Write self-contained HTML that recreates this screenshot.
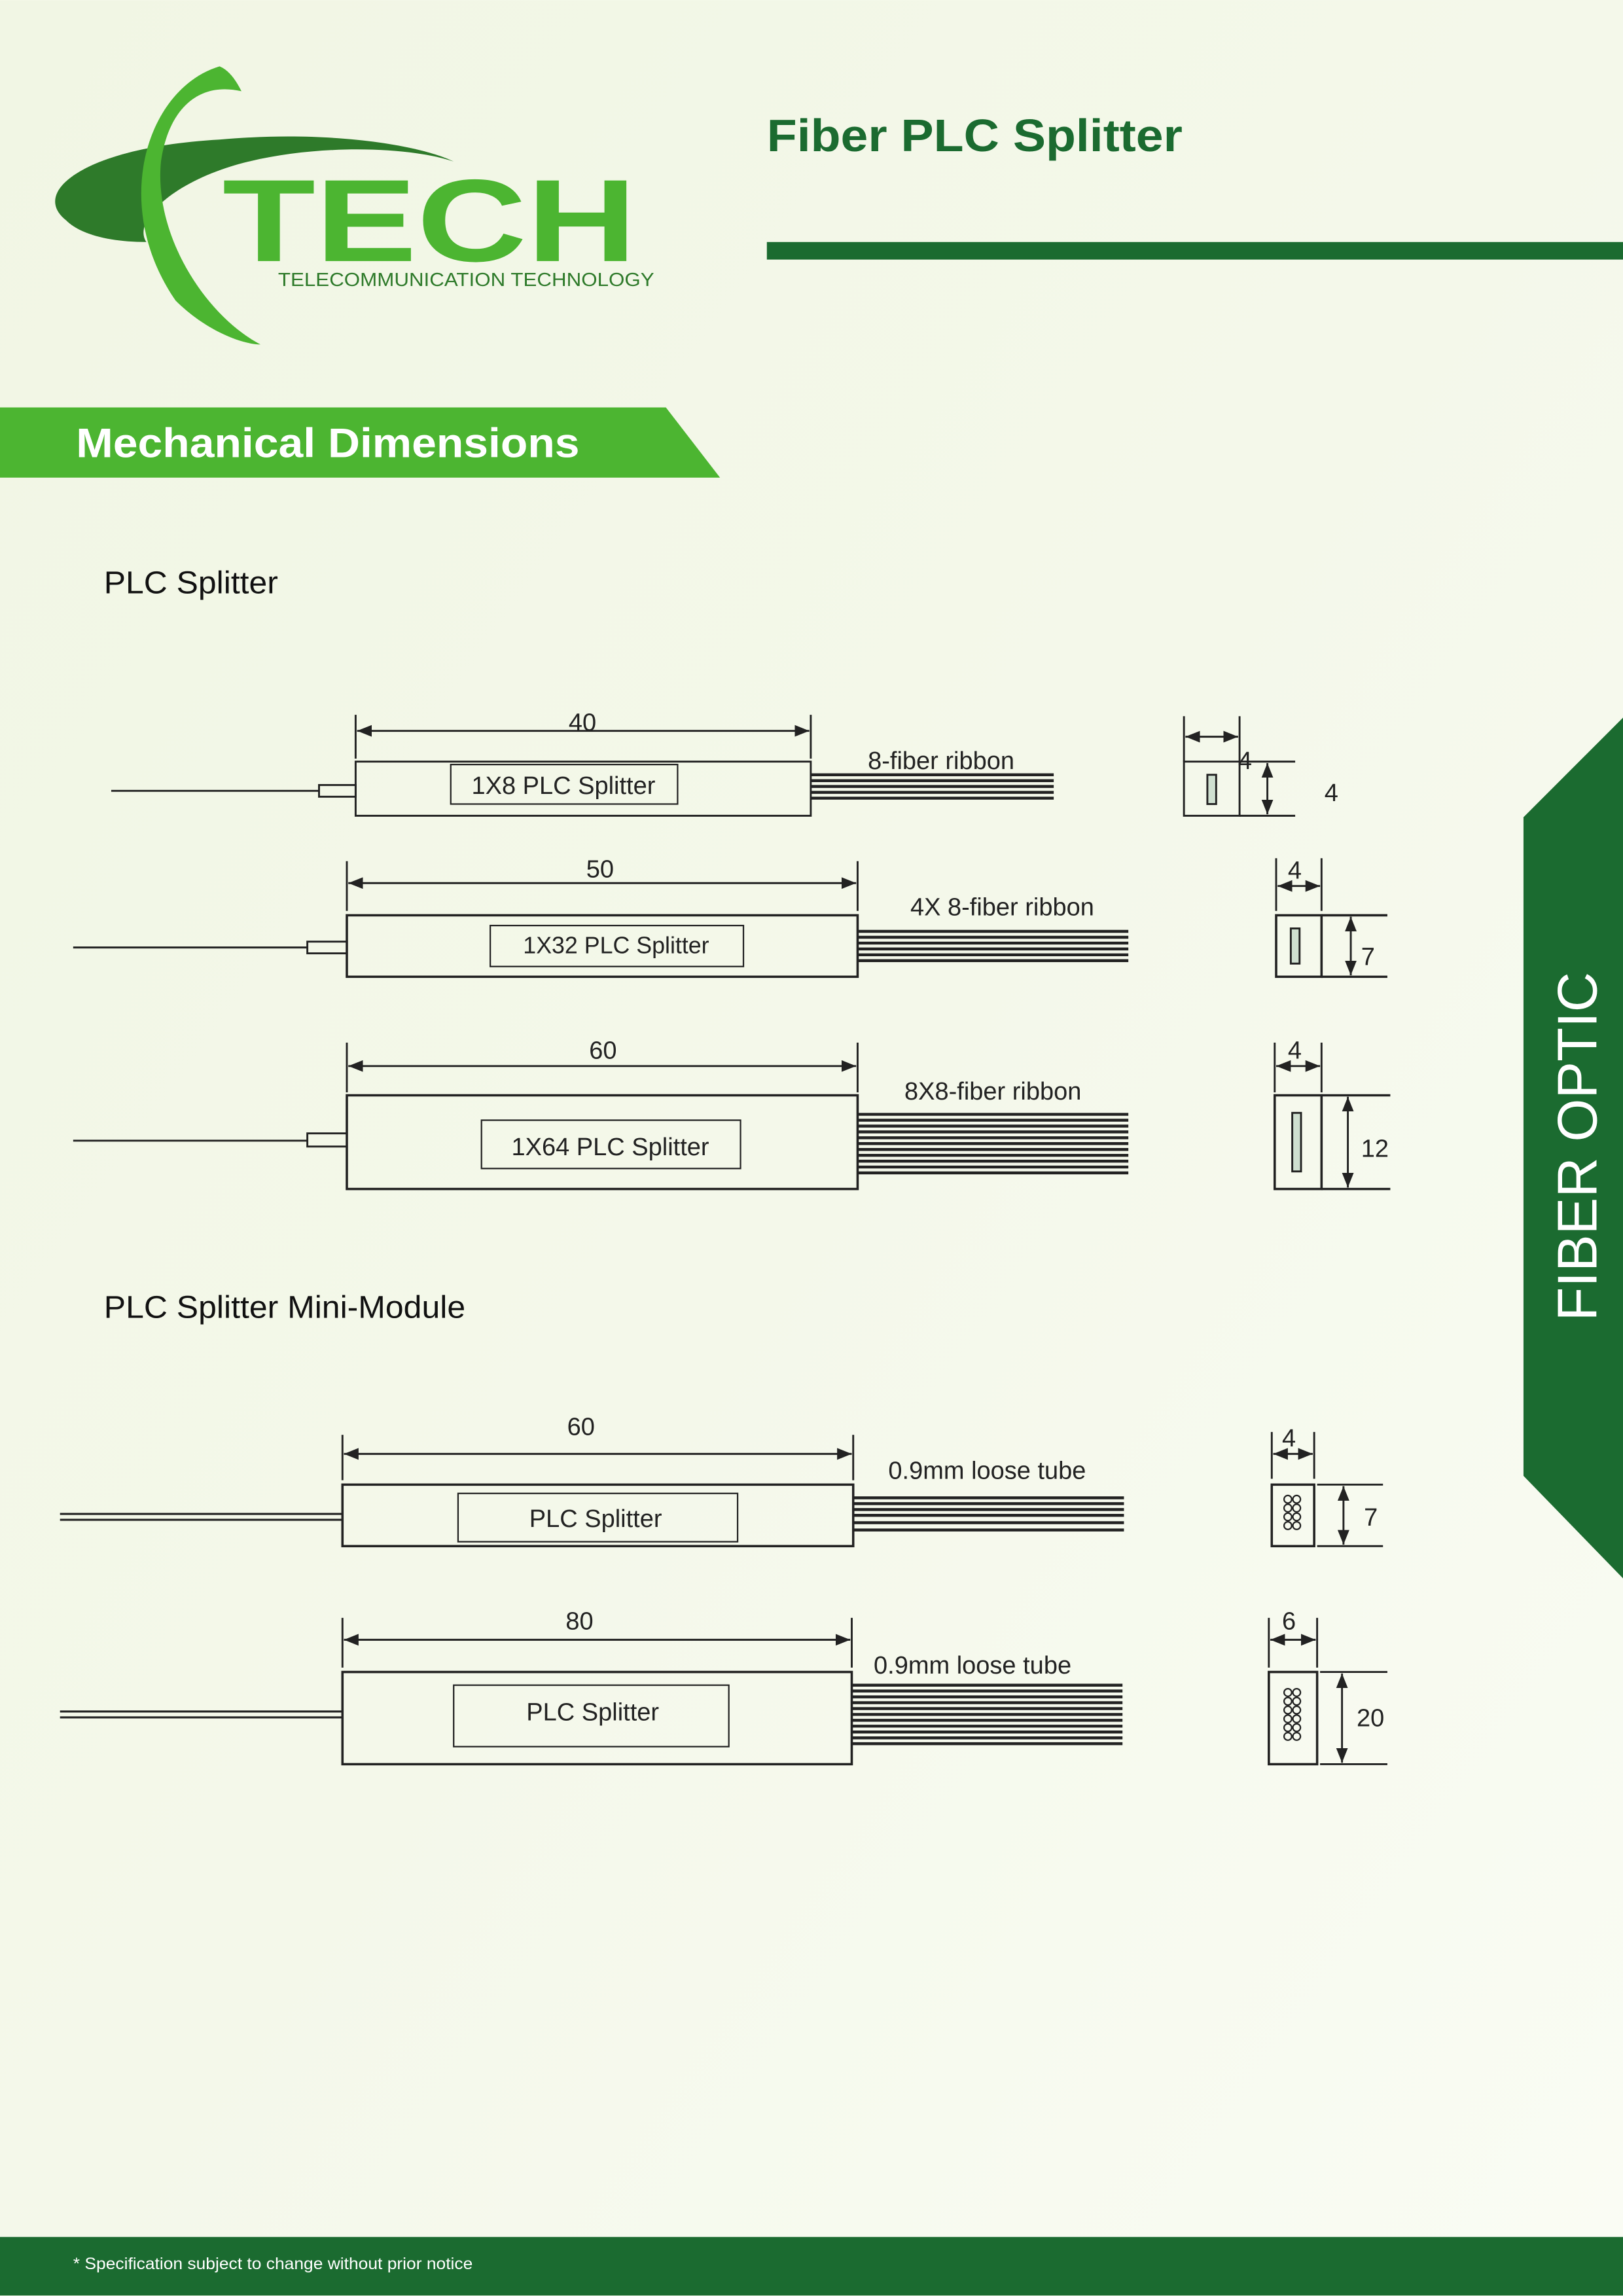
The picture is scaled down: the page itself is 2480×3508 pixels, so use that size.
<!DOCTYPE html>
<html><head><meta charset="utf-8"><style>
html,body{margin:0;padding:0;background:#f4f8ea;}
svg{display:block;}
text{font-family:"Liberation Sans",sans-serif;}
</style></head><body>
<svg width="2480" height="3508" viewBox="0 0 1109 1568" xmlns="http://www.w3.org/2000/svg">
<defs>
<linearGradient id="bg" x1="0" y1="0" x2="1" y2="1">
<stop offset="0" stop-color="#f1f6e4"/><stop offset="0.5" stop-color="#f4f8ea"/><stop offset="1" stop-color="#fafcf4"/></linearGradient>
<marker id="a" viewBox="0 0 10 10" refX="10" refY="5" markerWidth="10" markerHeight="10" orient="auto-start-reverse" markerUnits="userSpaceOnUse"><path d="M0,1 L10,5 L0,9z" fill="#222"/></marker>
</defs>
<rect width="1109" height="1568" fill="url(#bg)"/>

<!-- logo -->
<path d="M45,150 C20,130 60,100 150,95 C230,88 290,100 310,110 C280,100 220,98 170,110 C120,122 90,150 100,165 C75,165 55,160 45,150z" fill="#2e7a2a"/>
<path d="M150,45 C100,60 75,140 120,205 C140,225 165,235 178,235 C140,215 105,160 110,110 C115,75 135,55 165,62 C160,52 155,47 150,45z" fill="#4cb531"/>
<text x="152" y="178" font-size="80" font-weight="bold" fill="#4cb531" textLength="283" lengthAdjust="spacingAndGlyphs">TECH</text>
<text x="190" y="195" font-size="13" fill="#2e7a2a" textLength="257" lengthAdjust="spacingAndGlyphs">TELECOMMUNICATION TECHNOLOGY</text>

<text x="524" y="103" font-size="31" font-weight="bold" fill="#1b6b30" textLength="284" lengthAdjust="spacingAndGlyphs">Fiber PLC Splitter</text>
<rect x="524" y="165" width="585" height="12" fill="#1b6b30"/>

<path d="M0,278 L455,278 L492,326 L0,326z" fill="#4cb531"/>
<text x="52" y="312" font-size="28" font-weight="bold" fill="#fff" textLength="344" lengthAdjust="spacingAndGlyphs">Mechanical Dimensions</text>

<path d="M1041,558 L1109,490 L1109,1078 L1041,1008z" fill="#1b6b30"/>
<text transform="translate(1091,783) rotate(-90)" text-anchor="middle" font-size="38" fill="#fff">FIBER OPTIC</text>

<text x="71" y="405" font-size="21.5" fill="#111" textLength="119" lengthAdjust="spacingAndGlyphs">PLC Splitter</text>
<text x="71" y="900" font-size="21.5" fill="#111" textLength="247" lengthAdjust="spacingAndGlyphs">PLC Splitter Mini-Module</text>

<g stroke="#222" fill="none" stroke-width="1.3">
<!-- D1 -->
<line x1="243" y1="488" x2="243" y2="518"/><line x1="554" y1="488" x2="554" y2="518"/>
<line x1="244" y1="499" x2="553" y2="499" marker-start="url(#a)" marker-end="url(#a)"/>
<rect x="243" y="520" width="311" height="37"/><rect x="308" y="522" width="155" height="27" stroke-width="1"/>
<line x1="76" y1="540" x2="218" y2="540"/><rect x="218" y="536" width="25" height="8"/>
<g stroke-width="2"><line x1="554" y1="529" x2="720" y2="529"/><line x1="554" y1="533" x2="720" y2="533"/><line x1="554" y1="537" x2="720" y2="537"/><line x1="554" y1="541" x2="720" y2="541"/><line x1="554" y1="545" x2="720" y2="545"/></g>
<rect x="809" y="520" width="38" height="37"/><rect x="825" y="529" width="6" height="20" fill="#cfe0d0"/>
<line x1="809" y1="489" x2="809" y2="520"/><line x1="847" y1="489" x2="847" y2="520"/>
<line x1="810" y1="503" x2="846" y2="503" marker-start="url(#a)" marker-end="url(#a)"/>
<line x1="847" y1="520" x2="885" y2="520"/><line x1="847" y1="557" x2="885" y2="557"/>
<line x1="866" y1="521" x2="866" y2="556" marker-start="url(#a)" marker-end="url(#a)"/>
<!-- D2 -->
<line x1="237" y1="588" x2="237" y2="622"/><line x1="586" y1="588" x2="586" y2="622"/>
<line x1="238" y1="603" x2="585" y2="603" marker-start="url(#a)" marker-end="url(#a)"/>
<rect x="237" y="625" width="349" height="42" stroke-width="1.6"/><rect x="335" y="632" width="173" height="28" stroke-width="1"/>
<line x1="50" y1="647" x2="210" y2="647"/><rect x="210" y="643" width="27" height="8"/>
<g stroke-width="2"><line x1="586" y1="636" x2="771" y2="636"/><line x1="586" y1="640" x2="771" y2="640"/><line x1="586" y1="644" x2="771" y2="644"/><line x1="586" y1="648" x2="771" y2="648"/><line x1="586" y1="652" x2="771" y2="652"/><line x1="586" y1="656" x2="771" y2="656"/></g>
<rect x="872" y="625" width="31" height="42" stroke-width="1.6"/><rect x="882" y="634" width="6" height="24" fill="#cfe0d0"/>
<line x1="872" y1="586" x2="872" y2="622"/><line x1="903" y1="586" x2="903" y2="622"/>
<line x1="873" y1="605" x2="902" y2="605" marker-start="url(#a)" marker-end="url(#a)"/>
<line x1="903" y1="625" x2="948" y2="625" stroke-width="1.6"/><line x1="903" y1="667" x2="948" y2="667" stroke-width="1.6"/>
<line x1="923" y1="626" x2="923" y2="666" marker-start="url(#a)" marker-end="url(#a)"/>
<!-- D3 -->
<line x1="237" y1="712" x2="237" y2="746"/><line x1="586" y1="712" x2="586" y2="746"/>
<line x1="238" y1="728" x2="585" y2="728" marker-start="url(#a)" marker-end="url(#a)"/>
<rect x="237" y="748" width="349" height="64" stroke-width="1.6"/><rect x="329" y="765" width="177" height="33" stroke-width="1"/>
<line x1="50" y1="779" x2="210" y2="779"/><rect x="210" y="774" width="27" height="9"/>
<g stroke-width="2"><line x1="586" y1="761" x2="771" y2="761"/><line x1="586" y1="765" x2="771" y2="765"/><line x1="586" y1="769" x2="771" y2="769"/><line x1="586" y1="773" x2="771" y2="773"/><line x1="586" y1="777" x2="771" y2="777"/><line x1="586" y1="781" x2="771" y2="781"/><line x1="586" y1="785" x2="771" y2="785"/><line x1="586" y1="789" x2="771" y2="789"/><line x1="586" y1="793" x2="771" y2="793"/><line x1="586" y1="797" x2="771" y2="797"/><line x1="586" y1="801" x2="771" y2="801"/></g>
<rect x="871" y="748" width="32" height="64" stroke-width="1.6"/><rect x="883" y="760" width="6" height="40" fill="#cfe0d0"/>
<line x1="871" y1="712" x2="871" y2="746"/><line x1="903" y1="712" x2="903" y2="746"/>
<line x1="872" y1="728" x2="902" y2="728" marker-start="url(#a)" marker-end="url(#a)"/>
<line x1="903" y1="748" x2="950" y2="748" stroke-width="1.6"/><line x1="903" y1="812" x2="950" y2="812" stroke-width="1.6"/>
<line x1="921" y1="749" x2="921" y2="811" marker-start="url(#a)" marker-end="url(#a)"/>
<!-- D4 -->
<line x1="234" y1="980" x2="234" y2="1011"/><line x1="583" y1="980" x2="583" y2="1011"/>
<line x1="235" y1="993" x2="582" y2="993" marker-start="url(#a)" marker-end="url(#a)"/>
<rect x="234" y="1014" width="349" height="42" stroke-width="1.6"/><rect x="313" y="1020" width="191" height="33" stroke-width="1"/>
<line x1="41" y1="1034" x2="234" y2="1034" stroke-width="1.4"/><line x1="41" y1="1038" x2="234" y2="1038" stroke-width="1.4"/>
<g stroke-width="2"><line x1="583" y1="1023" x2="768" y2="1023"/><line x1="583" y1="1027" x2="768" y2="1027"/><line x1="583" y1="1031" x2="768" y2="1031"/><line x1="583" y1="1035" x2="768" y2="1035"/><line x1="583" y1="1040" x2="768" y2="1040"/><line x1="583" y1="1045" x2="768" y2="1045"/></g>
<rect x="869" y="1014" width="29" height="42" stroke-width="1.6"/>
<g stroke-width="1"><circle cx="880" cy="1024" r="2.6"/><circle cx="886" cy="1024" r="2.6"/><circle cx="880" cy="1030" r="2.6"/><circle cx="886" cy="1030" r="2.6"/><circle cx="880" cy="1036" r="2.6"/><circle cx="886" cy="1036" r="2.6"/><circle cx="880" cy="1042" r="2.6"/><circle cx="886" cy="1042" r="2.6"/></g>
<line x1="869" y1="978" x2="869" y2="1010"/><line x1="898" y1="978" x2="898" y2="1010"/>
<line x1="870" y1="993" x2="897" y2="993" marker-start="url(#a)" marker-end="url(#a)"/>
<line x1="900" y1="1014" x2="945" y2="1014"/><line x1="900" y1="1056" x2="945" y2="1056"/>
<line x1="918" y1="1015" x2="918" y2="1055" marker-start="url(#a)" marker-end="url(#a)"/>
<!-- D5 -->
<line x1="234" y1="1105" x2="234" y2="1139"/><line x1="582" y1="1105" x2="582" y2="1139"/>
<line x1="235" y1="1120" x2="581" y2="1120" marker-start="url(#a)" marker-end="url(#a)"/>
<rect x="234" y="1142" width="348" height="63" stroke-width="1.6"/><rect x="310" y="1151" width="188" height="42" stroke-width="1"/>
<line x1="41" y1="1169" x2="234" y2="1169" stroke-width="1.4"/><line x1="41" y1="1173" x2="234" y2="1173" stroke-width="1.4"/>
<g stroke-width="2"><line x1="582" y1="1151" x2="767" y2="1151"/><line x1="582" y1="1155" x2="767" y2="1155"/><line x1="582" y1="1159" x2="767" y2="1159"/><line x1="582" y1="1163" x2="767" y2="1163"/><line x1="582" y1="1167" x2="767" y2="1167"/><line x1="582" y1="1171" x2="767" y2="1171"/><line x1="582" y1="1175" x2="767" y2="1175"/><line x1="582" y1="1179" x2="767" y2="1179"/><line x1="582" y1="1183" x2="767" y2="1183"/><line x1="582" y1="1187" x2="767" y2="1187"/><line x1="582" y1="1191" x2="767" y2="1191"/></g>
<rect x="867" y="1142" width="33" height="63" stroke-width="1.6"/>
<g stroke-width="1"><circle cx="880" cy="1156" r="2.6"/><circle cx="886" cy="1156" r="2.6"/><circle cx="880" cy="1162" r="2.6"/><circle cx="886" cy="1162" r="2.6"/><circle cx="880" cy="1168" r="2.6"/><circle cx="886" cy="1168" r="2.6"/><circle cx="880" cy="1174" r="2.6"/><circle cx="886" cy="1174" r="2.6"/><circle cx="880" cy="1180" r="2.6"/><circle cx="886" cy="1180" r="2.6"/><circle cx="880" cy="1186" r="2.6"/><circle cx="886" cy="1186" r="2.6"/></g>
<line x1="867" y1="1105" x2="867" y2="1139"/><line x1="900" y1="1105" x2="900" y2="1139"/>
<line x1="868" y1="1120" x2="899" y2="1120" marker-start="url(#a)" marker-end="url(#a)"/>
<line x1="902" y1="1142" x2="948" y2="1142"/><line x1="902" y1="1205" x2="948" y2="1205"/>
<line x1="917" y1="1143" x2="917" y2="1204" marker-start="url(#a)" marker-end="url(#a)"/>
</g>

<g fill="#222" font-size="17">
<text x="398" y="499" text-anchor="middle">40</text>
<text x="385" y="542" text-anchor="middle">1X8 PLC Splitter</text>
<text x="593" y="525">8-fiber ribbon</text>
<text x="846" y="525">4</text><text x="905" y="547">4</text>
<text x="410" y="599" text-anchor="middle">50</text>
<text x="421" y="651" text-anchor="middle" font-size="16">1X32 PLC Splitter</text>
<text x="622" y="625">4X 8-fiber ribbon</text>
<text x="880" y="600">4</text><text x="930" y="659">7</text>
<text x="412" y="723" text-anchor="middle">60</text>
<text x="417" y="789" text-anchor="middle">1X64 PLC Splitter</text>
<text x="618" y="751">8X8-fiber ribbon</text>
<text x="880" y="723">4</text><text x="930" y="790">12</text>
<text x="397" y="980" text-anchor="middle">60</text>
<text x="407" y="1043" text-anchor="middle">PLC Splitter</text>
<text x="607" y="1010">0.9mm loose tube</text>
<text x="876" y="988">4</text><text x="932" y="1042">7</text>
<text x="396" y="1113" text-anchor="middle">80</text>
<text x="405" y="1175" text-anchor="middle">PLC Splitter</text>
<text x="597" y="1143">0.9mm loose tube</text>
<text x="876" y="1113">6</text><text x="927" y="1179">20</text>
</g>

<rect x="0" y="1528" width="1109" height="40" fill="#1b6b30"/>
<text x="50" y="1550" font-size="11" fill="#fff" textLength="273" lengthAdjust="spacingAndGlyphs">* Specification subject to change without prior notice</text>
</svg>
</body></html>
